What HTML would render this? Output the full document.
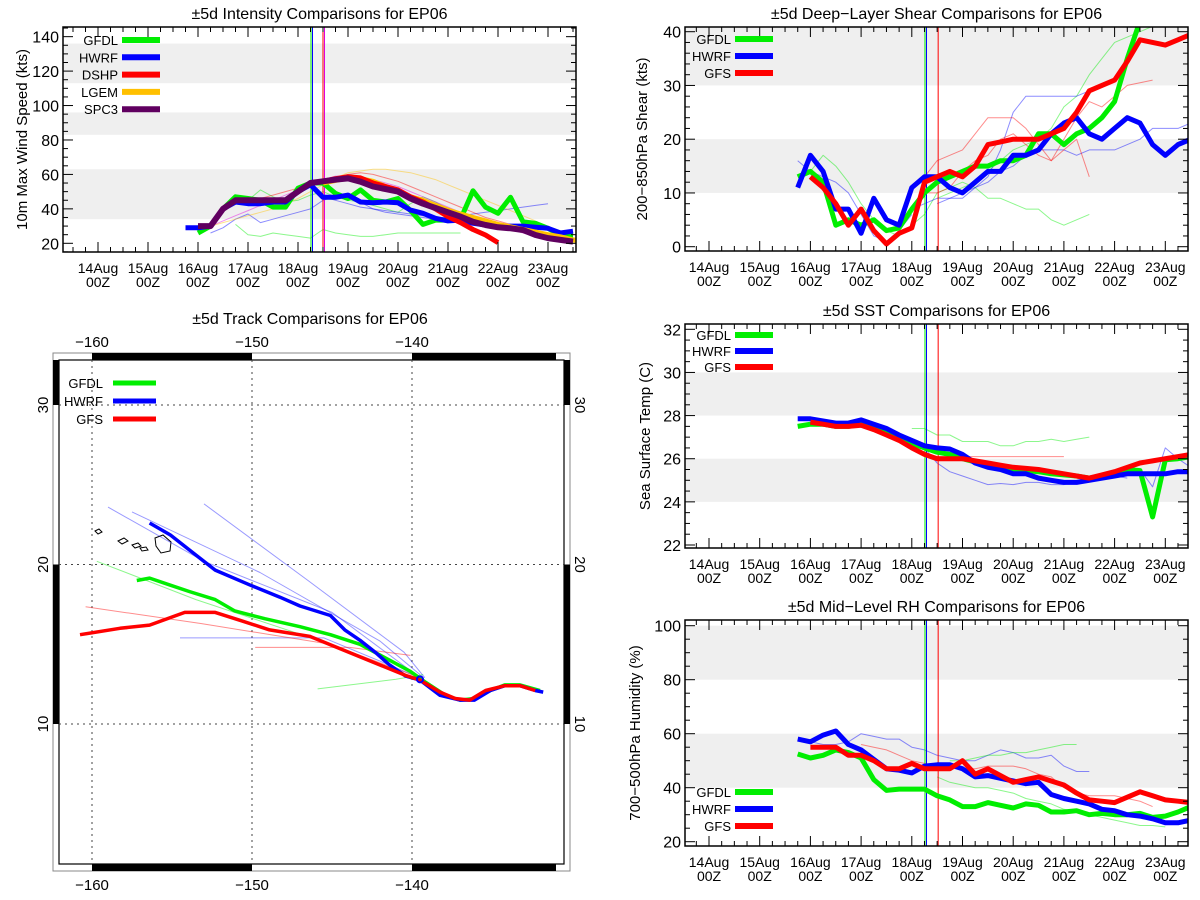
<!DOCTYPE html>
<html><head><meta charset="utf-8">
<style>
html,body{margin:0;padding:0;background:#fff;}
svg{display:block;font-family:"Liberation Sans","DejaVu Sans",sans-serif;}
</style></head>
<body>
<svg id="fig" width="1200" height="900" viewBox="0 0 1200 900" xmlns="http://www.w3.org/2000/svg"></svg>
<script>
// ---------- Intensity (kts) ----------
const intGfdlStart = 2.0;
const intGfdl = [26,30,40,47,46,45,41,41,52,55,55,49,46,51,45,44,46,39,31,33.5,33.5,34,50.5,41,37.4,46.7,32.5,31.6,28.7,24.8,24.8];
const intHwrfStart = 1.75;
const intHwrf = [29,29,30,40,44,43,43,44,44,50,54,46.7,46.7,48,44,43.5,44,43.5,39.3,37.4,34.5,33,33.5,31.6,30.6,29.3,30,30,29.3,28.7,26,27];
const intDshpStart = 4.5;
const intDshp = [56,57.5,58.7,58,55,53,51,47,44,40,35.5,32,28,24.8,20.4];
const intLgemStart = 4.5;
const intLgem = [55,56.5,58,57.5,56,53,50,47,45,42,39.3,37,35,33,31,29.6,28,26.5,25,23.8,22,21,19.6];
const intSpc3Start = 2.0;
const intSpc3 = [30,30,40,45,45,45,45,45,50,55,56,57,57.7,55.8,53,51.5,50,46,43,40.5,38,35.5,32.5,30.6,29.3,28.7,27.7,24.8,23,22,21];
const intThinGfdl1 = [31,25,24,26,25,24,23,28,26,25,24,24,25,26,26,26,26,26,26];
const intThinGfdl1Start = 2.75;
const intThinGfdl2 = [45,51,47,44,45,48,50,47,45,44,42,40,38,43,47,44,40,38,36];
const intThinGfdl2Start = 3.0;
const intThinHwrf1 = [26,29,34,37,32,34,36,38,40,45,47,46,44,40,38,37,36,35,34,33,32,31,31];
const intThinHwrf1Start = 2.25;
const intThinHwrf2 = [47,45,43,41,40,39,38,37,36,35,35,36,37,38,39,40,41,42,43];
const intThinHwrf2Start = 4.5;
const intThinLgem = [30,32,34,36,38,40,43,46,50,54,58,61,62,63,63,62,61,59,57,54,51,48,45,42,39,36,33];
const intThinLgemStart = 2.25;
const intThinSpc3 = [30,33,36,39,42,45,48,51,54,57,59,59,58,57,55,53,50,47,44,41,38,35,32,30,28,26,24,23];
const intThinSpc3Start = 2.25;
const intThinDshp = [44,46,48,50,52,54,56,58,60,61,60,58,56,53,50,47,44,41,38,35,33,31];
const intThinDshpStart = 3.0;

// ---------- Shear (kts) ----------
const shrHwrfStart = 1.75;
const shrHwrf = [11,17,14,7,7,2.5,9,5,4,11,13,13,11,10,12,14,14,17,17,18,21,23,24,21,20,22,24,23,19,17,19,20];
const shrGfdlStart = 1.75;
const shrGfdl = [13,14,12,4,5,4,5,3,3.5,7,10,12,13,14,15,15,16,16,17,21,21,19,21,22,24,27,35,42];
const shrGfsStart = 2.0;
const shrGfs = [13,11,8,4,7,3,0.5,2.5,3.5,12,13,14,13,15,19,19.5,20,20,20,21,22,25,29,30,31,34.5,38.5,38,37.5,38.5,39.5];
const shrThinGfdl1 = [14,17,15,12,8,5,3,2,4,6,10,11,12,11,9,9,8,7,7,5,4,5,6];
const shrThinGfdl1Start = 2.0;
const shrThinGfdl2 = [9,10,11,12,14,16,18,19,20,22,26,28,32,35,38,39,40,41];
const shrThinGfdl2Start = 4.5;
const shrThinHwrf1 = [7,8,9,9,9,11,13,18,25,28,28,28,28,28,29];
const shrThinHwrf1Start = 4.0;
const shrThinHwrf2 = [8,9,10,11,12,14,15,17,18,18,18,17,18,18,18,19,20,22,22,22,23];
const shrThinHwrf2Start = 4.5;
const shrThinHwrf3 = [16,14,13,12,10,6,2,1,3,6];
const shrThinHwrf3Start = 1.75;
const shrThinGfs1 = [13,16,17,18,21,24,24,24,22,19,16,20,24,27,26,28,30,30.5,31];
const shrThinGfs1Start = 4.25;
const shrThinGfs2 = [10,10,11,14,16,17,20,21,19,17,16,18,20,13];
const shrThinGfs2Start = 4.25;

// ---------- SST (C) ----------
const sstHwrfStart = 1.75;
const sstHwrf = [27.85,27.85,27.75,27.65,27.65,27.8,27.6,27.4,27.1,26.85,26.6,26.5,26.45,26.2,25.8,25.6,25.5,25.3,25.3,25.1,25.0,24.9,24.9,25.0,25.1,25.2,25.3,25.3,25.3,25.3,25.4,25.4];
const sstGfdlStart = 1.75;
const sstGfdl = [27.5,27.6,27.6,27.5,27.5,27.6,27.4,27.2,26.95,26.7,26.5,26.3,26.2,26.0,25.85,25.7,25.6,25.5,25.45,25.4,25.3,25.25,25.2,25.1,25.2,25.35,25.5,25.45,23.3,25.95,26.0,26.1];
const sstGfsStart = 2.0;
const sstGfs = [27.7,27.6,27.5,27.5,27.55,27.35,27.1,26.85,26.5,26.2,26.0,26.0,26.0,25.9,25.8,25.7,25.6,25.55,25.5,25.4,25.3,25.2,25.1,25.25,25.4,25.6,25.8,25.9,26.0,26.1,26.2];
const sstThinGfdl = [27.4,27.4,27.1,27.1,26.8,26.8,26.8,26.6,26.6,26.8,26.8,26.9,26.8,26.9,27.0];
const sstThinGfdlStart = 4.0;
const sstThinGfs = [26.1,26.1,26.1,26.1,26.1,26.1,26.1,26.1,26.1,26.1,26.1];
const sstThinGfsStart = 4.5;
const sstThinHwrf1 = [26.5,25.8,25.4,25.2,25.0,24.8,24.85,24.8,24.9,24.9,24.8,24.8,24.95,25.1,25.2,25.2,25.1];
const sstThinHwrf1Start = 4.25;
const sstThinHwrf2 = [25.3,25.4,25.5,24.7,26.5,26.0,25.6];
const sstThinHwrf2Start = 8.0;

// ---------- RH (%) ----------
const rhHwrfStart = 1.75;
const rhHwrf = [58,57,59.5,61,56,54,50.5,47,46.5,45.5,48,48.5,48.5,47,44,44.5,43.5,42.5,41.5,42,37.5,36,35,34,32,31.5,30,29.5,28.5,27,27,28];
const rhGfdlStart = 1.75;
const rhGfdl = [52.5,51,52,54,53,51,43,39,39.5,39.5,39.5,37,35.5,33,33,34.5,33.5,32.5,34,33.5,31,31,31.5,30,30.5,30,30,30.5,29,29.5,31,33];
const rhGfsStart = 2.0;
const rhGfs = [55,55,55,52,52,50,47,47,49,47,47,47,50,45,47,44.5,42,43,44,42.5,41,38,35.5,35,34.5,36.5,38.5,37,35.5,35,34.5];
const rhThinHwrf = [57,56,56,57,60,59,58,58,55,54,52,51,50,50,52,54,53,51,51,52,48,46,46];
const rhThinHwrfStart = 2.0;
const rhThinGfdl = [44,42,41,40,40,39,38,36,35,34,32,31,30,29,28,27,26,26,25.5];
const rhThinGfdlStart = 4.5;
const rhThinGfdl2 = [50,50,51,52,52,53,53,54,55,56,56];
const rhThinGfdl2Start = 4.75;
const rhThinGfs = [56,55,54,52,50,49,48,48,47,47,48,48,48,47,45,44,40,38,37,37,37,36,35,33];
const rhThinGfsStart = 3.0;

// ---------- Track (lon, lat) ----------
const trkGfdlLon = [-157.2,-156.4,-155.1,-153.9,-152.3,-151.1,-149.2,-147,-145.1,-143.25,-141.4,-140.1,-139.2,-137.9,-137,-136.1,-135.1,-134.2,-133.25,-132];
const trkGfdlLat = [19.0,19.15,18.7,18.3,17.8,17.1,16.6,16.1,15.6,15.0,14.0,13.3,12.65,11.8,11.5,11.6,12.1,12.45,12.45,12.1];
const trkHwrfLon = [-156.4,-155.1,-153.9,-152.3,-150.1,-148.25,-147,-145.1,-144.2,-143.25,-142.3,-141.4,-140.4,-139.5,-138.25,-137,-136.1,-135.1,-134.2,-133.25,-132.3,-131.8];
const trkHwrfLat = [22.6,21.85,20.9,19.65,18.7,17.95,17.4,16.8,15.9,15.25,14.5,13.7,13.0,12.75,11.8,11.5,11.5,12.1,12.4,12.4,12.1,12.0];
const trkGfsLon = [-160.75,-158.25,-156.4,-154.2,-152.3,-150.75,-148.9,-146.4,-144.2,-142,-140.4,-139.5,-138.25,-137.3,-136.4,-135.4,-134.2,-133.25,-132.3];
const trkGfsLat = [15.6,16.0,16.2,17.0,17.0,16.5,15.9,15.5,14.6,13.7,13.05,12.75,12.0,11.6,11.5,12.1,12.4,12.4,12.1];
const trkThinHwrf1Lon = [-159.0,-153.0,-145.0,-139.5];
const trkThinHwrf1Lat = [23.6,20.2,17.0,12.9];
const trkThinHwrf2Lon = [-157.5,-149.5,-142.0,-139.5];
const trkThinHwrf2Lat = [23.3,19.5,15.2,13.1];
const trkThinHwrf3Lon = [-153.0,-146.5,-140.5,-139.2];
const trkThinHwrf3Lat = [23.8,19.0,14.5,12.9];
const trkThinHwrf4Lon = [-154.5,-145.5,-139.5];
const trkThinHwrf4Lat = [15.4,15.4,12.9];
const trkThinGfsLon = [-160.4,-153.2,-145.1,-139.5];
const trkThinGfsLat = [17.35,16.3,15.0,12.9];
const trkThinGfs2Lon = [-149.8,-143.9,-140.1];
const trkThinGfs2Lat = [14.8,14.8,14.3];
const trkThinGfdlLon = [-159.7,-153.5,-146.0];
const trkThinGfdlLat = [20.2,17.8,15.3];
const trkThinGfdl2Lon = [-145.9,-141.0,-139.3];
const trkThinGfdl2Lat = [12.2,12.8,13.1];

const NS = "http://www.w3.org/2000/svg";
const fig = document.getElementById('fig');
function mk(tag, attrs, parent){
  const e = document.createElementNS(NS, tag);
  for (const k in attrs) e.setAttribute(k, attrs[k]);
  (parent||fig).appendChild(e);
  return e;
}
function txt(s, x, y, opts, parent){
  const t = mk('text', Object.assign({x:x, y:y, 'font-size':14, fill:'#000'}, opts||{}), parent);
  t.textContent = s;
  return t;
}

const GREEN='#00ee00', BLUE='#0000ff', RED='#ff0000', ORANGE='#ffc000', PURPLE='#600060', MAGENTA='#e000e0';
const days = ['14Aug','15Aug','16Aug','17Aug','18Aug','19Aug','20Aug','21Aug','22Aug','23Aug'];

function panel(cfg){
  const g = mk('g', {});
  
  
  const X = d => cfg.x0 + d*cfg.pxDay;
  const Y = v => cfg.yRef - (v - cfg.vRef)*cfg.pxVal;
  const clipId = cfg.name + '-clip';
  const cp = mk('clipPath', {id: clipId}, g);
  mk('rect', {x:cfg.L, y:cfg.T, width:cfg.R-cfg.L, height:cfg.B-cfg.T}, cp);
  // bands
  cfg.bands.forEach(b => {
    const r = mk('rect', {x:cfg.L, y:Y(b[1]), width:cfg.R-cfg.L, height:Y(b[0])-Y(b[1]), fill:'#efefef'}, g);
    
    
  });
  const plot = mk('g', {'clip-path':'url(#'+clipId+')'}, g);
  function series(vals, start, color, w, op, nm){
    let d = '';
    vals.forEach((v,i) => { d += (i?'L':'M') + X(start + 0.25*i).toFixed(1) + ',' + Y(v).toFixed(1); });
    const p = mk('path', {d:d, fill:'none', stroke:color, 'stroke-width':w, 'stroke-opacity':op, 'stroke-linejoin':'round'}, plot);
    
    
  }
  cfg.thin.forEach(s => series(s[0], s[1], s[2], 1, 0.45, 'ensemble-member-line'));
  // vertical time markers
  cfg.vlines.forEach(v => {
    const l = mk('line', {x1:X(v[0]), x2:X(v[0]), y1:cfg.T, y2:cfg.B, stroke:v[1], 'stroke-width':1}, plot);
    
    
  });
  cfg.thick.forEach(s => series(s[0], s[1], s[2], s[3], 1, s[4]));
  // frame
  const fr = mk('rect', {x:cfg.L, y:cfg.T, width:cfg.R-cfg.L, height:cfg.B-cfg.T, fill:'none', stroke:'#000', 'stroke-width':1.5}, g);
  
  
  // y ticks
  for (let v = cfg.ymin; v <= cfg.ymax + 1e-6; v += cfg.yMinor){
    const y = Y(v); if (y < cfg.T-0.5 || y > cfg.B+0.5) continue;
    const major = Math.abs(v/cfg.yMajor - Math.round(v/cfg.yMajor)) < 1e-6;
    const len = major ? 10 : 5;
    mk('line', {x1:cfg.L, x2:cfg.L+len, y1:y, y2:y, stroke:'#000'}, g);
    mk('line', {x1:cfg.R, x2:cfg.R-len, y1:y, y2:y, stroke:'#000'}, g);
    if (major){
      const t = txt(String(v), cfg.L-4, y+6, {'text-anchor':'end', 'font-size':16}, g);
      
      
    }
  }
  // x ticks
  for (let q = -4; q <= 44; q++){
    const x = X(q*0.25); if (x < cfg.L+1 || x > cfg.R-1) continue;
    const len = (q%4===0) ? 10 : 5;
    mk('line', {x1:x, x2:x, y1:cfg.B, y2:cfg.B-len, stroke:'#000'}, g);
    mk('line', {x1:x, x2:x, y1:cfg.T, y2:cfg.T+len, stroke:'#000'}, g);
  }
  days.forEach((dl, i) => {
    const t1 = txt(dl, X(i), cfg.B+21, {'text-anchor':'middle'}, g);
    
    
    const t2 = txt('00Z', X(i), cfg.B+35, {'text-anchor':'middle'}, g);
    
    
  });
  const tt = txt(cfg.title, (cfg.L+cfg.R)/2, cfg.T-8, {'text-anchor':'middle', 'font-size':16}, g);
  
  
  const yt = txt(cfg.ylabel, 0, 0, {'text-anchor':'middle', 'font-size':15, transform:'translate('+cfg.ylx+','+((cfg.T+cfg.B)/2)+') rotate(-90)'}, g);
  
  
  // legend
  cfg.legend.forEach((e, i) => {
    const y = cfg.legY + i*cfg.legDy;
    const lt = txt(e[0], cfg.legX-4, y+5, {'text-anchor':'end', 'font-size':13}, g);
    
    
    const ll = mk('line', {x1:cfg.legX, x2:cfg.legX+38, y1:y, y2:y, stroke:e[1], 'stroke-width':6}, g);
    
    
  });
}

// Intensity panel
panel({name:'intensity-panel', title:'\u00B15d Intensity Comparisons for EP06', ylabel:'10m Max Wind Speed (kts)',
  L:63, R:576, T:27, B:252, x0:98, pxDay:50, yRef:243.3, vRef:20, pxVal:1.722,
  ymin:15, ymax:145, yMajor:20, yMinor:5, ylx:27,
  bands:[[34,63],[83,96],[113,136]],
  vlines:[[4.26,GREEN],[4.29,BLUE],[4.5,RED],[4.53,MAGENTA]],
  thin:[[intThinGfdl1,intThinGfdl1Start,GREEN],[intThinGfdl2,intThinGfdl2Start,GREEN],[intThinHwrf1,intThinHwrf1Start,BLUE],[intThinHwrf2,intThinHwrf2Start,BLUE],[intThinLgem,intThinLgemStart,ORANGE],[intThinSpc3,intThinSpc3Start,MAGENTA],[intThinDshp,intThinDshpStart,RED]],
  thick:[[intGfdl,intGfdlStart,GREEN,5,'gfdl-line'],[intHwrf,intHwrfStart,BLUE,5,'hwrf-line'],[intLgem,intLgemStart,ORANGE,5,'lgem-line'],[intDshp,intDshpStart,RED,5,'dshp-line'],[intSpc3,intSpc3Start,PURPLE,6,'spc3-line']],
  legend:[['GFDL',GREEN],['HWRF',BLUE],['DSHP',RED],['LGEM',ORANGE],['SPC3',PURPLE]], legX:122, legY:40, legDy:17.3});

// Shear panel
panel({name:'shear-panel', title:'\u00B15d Deep\u2212Layer Shear Comparisons for EP06', ylabel:'200\u2212850hPa Shear (kts)',
  L:685, R:1188, T:27, B:251, x0:709, pxDay:50.7, yRef:246.7, vRef:0, pxVal:5.375,
  ymin:0, ymax:42, yMajor:10, yMinor:2, ylx:647,
  bands:[[10,20],[30,40.8]],
  vlines:[[4.26,GREEN],[4.29,BLUE],[4.52,RED]],
  thin:[[shrThinGfdl1,shrThinGfdl1Start,GREEN],[shrThinGfdl2,shrThinGfdl2Start,GREEN],[shrThinHwrf1,shrThinHwrf1Start,BLUE],[shrThinHwrf2,shrThinHwrf2Start,BLUE],[shrThinHwrf3,shrThinHwrf3Start,BLUE],[shrThinGfs1,shrThinGfs1Start,RED],[shrThinGfs2,shrThinGfs2Start,RED]],
  thick:[[shrGfdl,shrGfdlStart,GREEN,5,'gfdl-line'],[shrHwrf,shrHwrfStart,BLUE,5,'hwrf-line'],[shrGfs,shrGfsStart,RED,5,'gfs-line']],
  legend:[['GFDL',GREEN],['HWRF',BLUE],['GFS',RED]], legX:735, legY:39, legDy:17});

// SST panel
panel({name:'sst-panel', title:'\u00B15d SST Comparisons for EP06', ylabel:'Sea Surface Temp (C)',
  L:685, R:1188, T:324, B:548, x0:709, pxDay:50.7, yRef:545, vRef:22, pxVal:21.57,
  ymin:22, ymax:32.2, yMajor:2, yMinor:0.5, ylx:650,
  bands:[[24,26],[28,30]],
  vlines:[[4.26,GREEN],[4.29,BLUE],[4.52,RED]],
  thin:[[sstThinGfdl,sstThinGfdlStart,GREEN],[sstThinGfs,sstThinGfsStart,RED],[sstThinHwrf1,sstThinHwrf1Start,BLUE],[sstThinHwrf2,sstThinHwrf2Start,BLUE]],
  thick:[[sstGfdl,sstGfdlStart,GREEN,5,'gfdl-line'],[sstHwrf,sstHwrfStart,BLUE,5,'hwrf-line'],[sstGfs,sstGfsStart,RED,5,'gfs-line']],
  legend:[['GFDL',GREEN],['HWRF',BLUE],['GFS',RED]], legX:735, legY:335, legDy:16});

// RH panel
panel({name:'rh-panel', title:'\u00B15d Mid\u2212Level RH Comparisons for EP06', ylabel:'700\u2212500hPa Humidity (%)',
  L:685, R:1188, T:620, B:846, x0:709, pxDay:50.7, yRef:841.7, vRef:20, pxVal:2.7,
  ymin:20, ymax:100, yMajor:20, yMinor:5, ylx:640,
  bands:[[40,60],[80,100]],
  vlines:[[4.26,GREEN],[4.29,BLUE],[4.52,RED]],
  thin:[[rhThinHwrf,rhThinHwrfStart,BLUE],[rhThinGfdl,rhThinGfdlStart,GREEN],[rhThinGfdl2,rhThinGfdl2Start,GREEN],[rhThinGfs,rhThinGfsStart,RED]],
  thick:[[rhGfdl,rhGfdlStart,GREEN,5,'gfdl-line'],[rhHwrf,rhHwrfStart,BLUE,5,'hwrf-line'],[rhGfs,rhGfsStart,RED,5,'gfs-line']],
  legend:[['GFDL',GREEN],['HWRF',BLUE],['GFS',RED]], legX:735, legY:792, legDy:17});

// ---------- Track map ----------
(function(){
  const g = mk('g', {});
  
  
  const LX = lon => 252 + (lon + 150)*16;
  const LY = lat => 564.5 - (lat - 20)*15.95;
  const iL = 59, iR = 564, iT = 360, iB = 864;
  const tt = txt('\u00B15d Track Comparisons for EP06', 310, 324, {'text-anchor':'middle', 'font-size':16}, g);
  
  
  mk('rect', {x:53, y:353, width:517, height:518, fill:'#fff', stroke:'#888', 'stroke-width':1}, g);
  // frame segments
  const segsX = [[-160,-150],[-140,-131]];
  segsX.forEach(s => {
    const x1 = LX(s[0]), x2 = Math.min(LX(s[1]), iR);
    mk('rect', {x:x1, y:353, width:x2-x1, height:7, fill:'#000'}, g);
    mk('rect', {x:x1, y:864, width:x2-x1, height:7, fill:'#000'}, g);
  });
  const segsY = [[30,33],[10,20]];
  segsY.forEach(s => {
    const y1 = Math.max(LY(s[1]), iT), y2 = LY(s[0]);
    mk('rect', {x:53, y:y1, width:6, height:y2-y1, fill:'#000'}, g);
    mk('rect', {x:564, y:y1, width:6, height:y2-y1, fill:'#000'}, g);
  });
  mk('rect', {x:iL, y:iT, width:iR-iL, height:iB-iT, fill:'none', stroke:'#000', 'stroke-width':1.2}, g);
  // grid
  [-160,-150,-140].forEach(lon => {
    const l = mk('line', {x1:LX(lon), x2:LX(lon), y1:iT, y2:iB, stroke:'#444', 'stroke-dasharray':'2,4'}, g);
    
    
    const a = txt('\u2212' + Math.abs(lon), LX(lon), 347, {'text-anchor':'middle', 'font-size':15}, g);
    
    
    const b = txt('\u2212' + Math.abs(lon), LX(lon), 890, {'text-anchor':'middle', 'font-size':15}, g);
    
    
  });
  [10,20,30].forEach(lat => {
    const l = mk('line', {x1:iL, x2:iR, y1:LY(lat), y2:LY(lat), stroke:'#444', 'stroke-dasharray':'2,4'}, g);
    
    
    const a = txt(String(lat), 0, 0, {'text-anchor':'middle', 'font-size':15, transform:'translate(48,'+LY(lat)+') rotate(-90)'}, g);
    
    
    const b = txt(String(lat), 0, 0, {'text-anchor':'middle', 'font-size':15, transform:'translate(575,'+LY(lat)+') rotate(90)'}, g);
    
    
  });
  // Hawaiian islands
  const isl = [[[95,531],[99,529],[102,532],[98,534]],[[118,541],[124,538],[128,541],[122,544]],[[132,545],[138,543],[141,546],[135,548]],[[140,548],[146,547],[148,550],[142,551]],[[155,538],[163,535],[171,542],[170,551],[161,553],[156,546]]];
  isl.forEach(pts => {
    const p = mk('polygon', {points:pts.map(q=>q.join(',')).join(' '), fill:'none', stroke:'#000', 'stroke-width':1}, g);
    
    
  });
  function trk(lons, lats, color, w, op, nm){
    let d = '';
    lons.forEach((lon,i) => { d += (i?'L':'M') + LX(lon).toFixed(1) + ',' + LY(lats[i]).toFixed(1); });
    const p = mk('path', {d:d, fill:'none', stroke:color, 'stroke-width':w, 'stroke-opacity':op, 'stroke-linejoin':'round'}, g);
    
    
  }
  trk(trkThinHwrf1Lon, trkThinHwrf1Lat, BLUE, 1, 0.4, 'ensemble-track');
  trk(trkThinHwrf2Lon, trkThinHwrf2Lat, BLUE, 1, 0.4, 'ensemble-track');
  trk(trkThinHwrf3Lon, trkThinHwrf3Lat, BLUE, 1, 0.4, 'ensemble-track');
  trk(trkThinHwrf4Lon, trkThinHwrf4Lat, BLUE, 1, 0.4, 'ensemble-track');
  trk(trkThinGfsLon, trkThinGfsLat, RED, 1, 0.45, 'ensemble-track');
  trk(trkThinGfs2Lon, trkThinGfs2Lat, RED, 1, 0.45, 'ensemble-track');
  trk(trkThinGfdlLon, trkThinGfdlLat, GREEN, 1, 0.45, 'ensemble-track');
  trk(trkThinGfdl2Lon, trkThinGfdl2Lat, GREEN, 1, 0.45, 'ensemble-track');
  trk(trkGfdlLon, trkGfdlLat, GREEN, 3.5, 1, 'gfdl-track');
  trk(trkHwrfLon, trkHwrfLat, BLUE, 3.5, 1, 'hwrf-track');
  trk(trkGfsLon, trkGfsLat, RED, 3.5, 1, 'gfs-track');
  const c = mk('circle', {cx:LX(-139.5), cy:LY(12.8), r:3, fill:'none', stroke:BLUE, 'stroke-width':2}, g);
  
  
  [['GFDL',GREEN],['HWRF',BLUE],['GFS',RED]].forEach((e,i) => {
    const y = 383 + i*18;
    const lt = txt(e[0], 103, y+5, {'text-anchor':'end', 'font-size':13}, g);
    
    
    const ll = mk('line', {x1:113, x2:156, y1:y, y2:y, stroke:e[1], 'stroke-width':5}, g);
    
    
  });
})();
</script>
</body></html>
